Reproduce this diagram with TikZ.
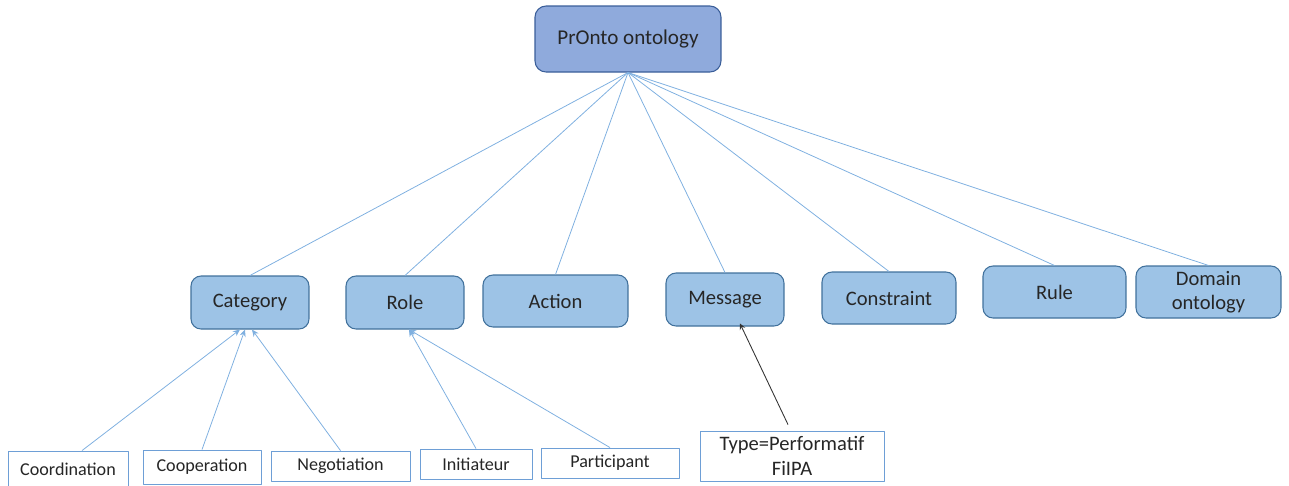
\documentclass[tikz,border=0pt]{standalone}
\usepackage{fontspec}
\setmainfont{Carlito}
\usetikzlibrary{arrows.meta}
\definecolor{topfill}{HTML}{8FAADC}
\definecolor{topline}{HTML}{3A5E99}
\definecolor{boxfill}{HTML}{9DC3E6}
\definecolor{boxline}{HTML}{41719C}
\definecolor{linkcol}{HTML}{7FB0E0}
\definecolor{leafline}{HTML}{6E9FD6}
\begin{document}
\begin{tikzpicture}[x=0.02cm,y=-0.02cm,>=stealth,line join=round,
	topbox/.style={draw=topline,fill=topfill,rounded corners=0.22cm,line width=0.6pt,inner sep=0pt,font=\fontsize{12}{13}\selectfont,text=black!85},
	classbox/.style={draw=boxline,fill=boxfill,rounded corners=0.2cm,line width=0.6pt,inner sep=0pt,align=center,font=\fontsize{11.7}{14}\selectfont,text=black!85},
	leafbox/.style={draw=leafline,fill=white,line width=0.5pt,inner sep=0pt,align=center,font=\fontsize{10.3}{12}\selectfont,text=black!85},
	link/.style={draw=linkcol,line width=0.45pt},
	isa/.style={link,-{Stealth[length=4pt,width=3.5pt]}}]
		\useasboundingbox (0,0) rectangle (1289,485);
		\node[topbox,minimum width=3.72cm,minimum height=1.32cm] (pronto) at (628,39) {PrOnto ontology};
		\node[classbox,minimum width=2.36cm,minimum height=1.06cm] (category) at (250,302.5) {Category};
		\node[classbox,minimum width=2.36cm,minimum height=1.06cm] (role) at (405,302.5) {Role};
		\node[classbox,minimum width=2.9cm,minimum height=1.04cm] (action) at (555.5,301) {Action};
		\node[classbox,minimum width=2.36cm,minimum height=1.06cm] (message) at (725,299.5) {Message};
		\node[classbox,minimum width=2.68cm,minimum height=1.04cm] (constraint) at (889,298) {Constraint};
		\node[classbox,minimum width=2.86cm,minimum height=1.04cm] (rule) at (1054.5,292) {Rule};
		\node[classbox,minimum width=2.9cm,minimum height=1.04cm] (domain) at (1208.5,292) {Domain\\ontology};
		\node[leafbox,minimum width=2.4cm,minimum height=0.74cm] (coordination) at (68,469.5) {Coordination};
		\node[leafbox,minimum width=2.36cm,minimum height=0.68cm] (cooperation) at (202,467) {Cooperation};
		\node[leafbox,minimum width=2.78cm,minimum height=0.6cm] (negotiation) at (340.5,466) {Negotiation};
		\node[leafbox,minimum width=2.24cm,minimum height=0.6cm] (initiateur) at (476,464) {Initiateur};
		\node[leafbox,minimum width=2.76cm,minimum height=0.6cm] (participant) at (610,463) {Participant};
		\node[leafbox,minimum width=3.68cm,minimum height=1cm,font=\fontsize{11.7}{14}\selectfont] (performatif) at (792,456) {Type=Performatif\\FiIPA};
		\foreach \c in {category,role,action,message,constraint,rule,domain}
			\draw[link] (pronto.south) -- (\c.north);
		\draw[isa] ([xshift=0.28cm]coordination.north) -- ([xshift=-0.2cm]category.south);
		\draw[isa] (cooperation.north) -- ([xshift=-0.1cm]category.south);
		\draw[isa] (negotiation.north) -- ([xshift=0.04cm]category.south);
		\draw[isa] (initiateur.north) -- ([xshift=0.08cm]role.south);
		\draw[isa] (participant.north) -- ([xshift=0.08cm]role.south);
		\draw[->,black!80,line width=0.5pt] ([xshift=-0.08cm,yshift=0.12cm]performatif.north) -- ([xshift=0.3cm,yshift=0.06cm]message.south);
\end{tikzpicture}
\end{document}
